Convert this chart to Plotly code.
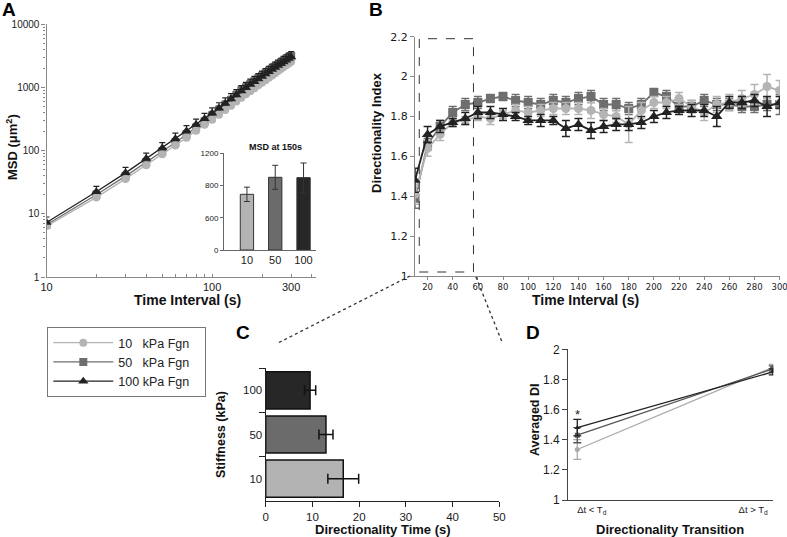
import plotly.graph_objects as go

# ---------------- Data ----------------
series_names = ["10\u00a0\u00a0\u00a0kPa Fgn\u00a0\u00a0\u00a0", "50\u00a0\u00a0\u00a0kPa Fgn\u00a0\u00a0\u00a0",
                "100\u00a0kPa Fgn\u00a0\u00a0\u00a0"]
stiffness_labels = ["10", "50", "100"]

time_interval = [10, 20, 30, 40, 50, 60, 70, 80, 90, 100,
                 110, 120, 130, 140, 150, 160, 170, 180, 190, 200,
                 210, 220, 230, 240, 250, 260, 270, 280, 290, 300]

# Panel A: MSD (um^2)
msd_10 = [6.4, 18.2, 35.7, 59, 87.5, 121, 160, 207, 256, 308,
          370, 438, 515, 600, 690, 780, 875, 975, 1080, 1190,
          1305, 1425, 1550, 1680, 1815, 1955, 2100, 2250, 2400, 2560]
msd_50 = [6.7, 20, 39.5, 65, 97, 135, 180, 232, 290, 365,
          445, 535, 635, 760, 895, 1010, 1135, 1260, 1395, 1530,
          1675, 1825, 1980, 2135, 2295, 2460, 2630, 2800, 2980, 3160]
msd_100 = [7.3, 22.3, 44.5, 75, 110, 155, 204, 259, 319, 391,
           470, 560, 655, 760, 880, 990, 1110, 1230, 1360, 1490,
           1630, 1770, 1920, 2070, 2220, 2380, 2540, 2700, 2870, 3040]
msd_err_pct = [10, 15, 22]          # upper error bar, % of value

# Panel A inset: MSD at 150 s
inset_ticks = [0, 400, 800, 1200]
inset_ticktext = ["0", "600", "800", "1200"]
msd150 = [691, 902, 898]
msd150_err = [89, 149, 182]

# Panel B: Directionality index
di_10 = [1.41, 1.64, 1.71, 1.77, 1.78, 1.80, 1.79, 1.81, 1.83, 1.82,
         1.83, 1.84, 1.84, 1.84, 1.83, 1.81, 1.80, 1.76, 1.83, 1.87,
         1.87, 1.89, 1.85, 1.82, 1.86, 1.87, 1.89, 1.91, 1.95, 1.93]
di_10_err = [0.05, 0.04, 0.03, 0.02, 0.02, 0.02, 0.03, 0.02, 0.03, 0.03,
             0.03, 0.03, 0.03, 0.03, 0.04, 0.03, 0.03, 0.09, 0.04, 0.03,
             0.03, 0.03, 0.03, 0.04, 0.04, 0.04, 0.04, 0.05, 0.06, 0.05]
di_50 = [1.39, 1.66, 1.75, 1.82, 1.86, 1.87, 1.89, 1.90, 1.88, 1.87,
         1.86, 1.88, 1.87, 1.89, 1.90, 1.86, 1.86, 1.84, 1.86, 1.92,
         1.90, 1.85, 1.85, 1.88, 1.86, 1.86, 1.85, 1.85, 1.86, 1.86]
di_50_err = [0.05, 0.03, 0.03, 0.03, 0.03, 0.03, 0.02, 0.02, 0.03, 0.03,
             0.03, 0.03, 0.03, 0.03, 0.03, 0.03, 0.03, 0.03, 0.03, 0.02,
             0.03, 0.03, 0.03, 0.03, 0.03, 0.03, 0.03, 0.03, 0.03, 0.05]
di_100 = [1.48, 1.71, 1.75, 1.77, 1.79, 1.82, 1.82, 1.81, 1.80, 1.78,
          1.78, 1.78, 1.74, 1.76, 1.73, 1.75, 1.76, 1.76, 1.77, 1.80,
          1.82, 1.83, 1.83, 1.83, 1.80, 1.87, 1.87, 1.88, 1.85, 1.87]
di_100_err = [0.06, 0.04, 0.03, 0.02, 0.03, 0.03, 0.03, 0.03, 0.02, 0.02,
              0.03, 0.02, 0.04, 0.03, 0.04, 0.03, 0.03, 0.03, 0.03, 0.03,
              0.03, 0.02, 0.03, 0.03, 0.05, 0.03, 0.03, 0.03, 0.05, 0.03]

# Panel C: Directionality time (s)
dir_time = [16.6, 12.9, 9.5]
dir_time_err = [3.3, 1.5, 1.2]

# Panel D: averaged DI
transition_labels = ["\u0394t < T<sub>d</sub>", "\u0394t > T<sub>d</sub>"]
transition_x = [0, 1]
avg_di_10 = [1.335, 1.88]
avg_di_10_err = [0.065, 0.02]
avg_di_50 = [1.43, 1.87]
avg_di_50_err = [0.05, 0.02]
avg_di_100 = [1.48, 1.85]
avg_di_100_err = [0.055, 0.02]

# ---------------- Styling ----------------
W, H = 787, 537
ARIAL = "Liberation Sans, Arial, sans-serif"
VERD = "DejaVu Sans, Verdana, sans-serif"
TXT = "#1a1a1a"
col_line = ["#b4b4b4", "#6e6e6e", "#222222"]
col_bar = ["#b3b3b3", "#6b6b6b", "#272727"]
col_d = ["#aaaaaa", "#555555", "#222222"]
symbols = ["circle", "square", "triangle-up"]
msizes = [8, 8, 9]


def fx(px):
    return px / W


def fy(py):
    return 1 - py / H


fig = go.Figure()

msd_all = [msd_10, msd_50, msd_100]
di_all = [di_10, di_50, di_100]
di_err_all = [di_10_err, di_50_err, di_100_err]
order = [1, 0, 2]   # drawing order: square, circle, triangle on top

# Panel A main
for i in order:
    fig.add_trace(go.Scatter(
        x=time_interval, y=msd_all[i], mode="lines+markers",
        name=series_names[i], legendrank=i + 1,
        line=dict(color=col_line[i], width=1.3),
        marker=dict(symbol=symbols[i], size=msizes[i], color=col_line[i]),
        error_y=dict(type="percent", value=msd_err_pct[i], valueminus=0,
                     symmetric=False, color=col_line[i], thickness=1.2, width=3),
        xaxis="x", yaxis="y", showlegend=True))

# Panel A inset
fig.add_trace(go.Bar(
    x=stiffness_labels, y=msd150, width=0.47,
    marker=dict(color=col_bar, line=dict(color="#333333", width=1)),
    error_y=dict(type="data", array=msd150_err, color="#333333", thickness=1, width=3),
    xaxis="x2", yaxis="y2", showlegend=False))

# Panel B
for i in order:
    fig.add_trace(go.Scatter(
        x=time_interval, y=di_all[i], mode="lines+markers",
        line=dict(color=col_line[i], width=1.8),
        marker=dict(symbol=symbols[i], size=msizes[i] + 1, color=col_line[i]),
        error_y=dict(type="data", array=di_err_all[i], color=col_line[i], thickness=1.5, width=4),
        xaxis="x3", yaxis="y3", showlegend=False))

# Panel C
fig.add_trace(go.Bar(
    y=stiffness_labels, x=dir_time, orientation="h", width=0.84,
    marker=dict(color=col_bar, line=dict(color="#111111", width=1.5)),
    error_x=dict(type="data", array=dir_time_err, color="#111111", thickness=1.5, width=5),
    xaxis="x4", yaxis="y4", showlegend=False))

# Panel D
d_all = [avg_di_10, avg_di_50, avg_di_100]
d_err = [avg_di_10_err, avg_di_50_err, avg_di_100_err]
for i in [0, 1, 2]:
    fig.add_trace(go.Scatter(
        x=transition_x, y=d_all[i], mode="lines+markers",
        line=dict(color=col_d[i], width=1.3),
        marker=dict(symbol=symbols[i], size=5, color=col_d[i]),
        error_y=dict(type="data", array=d_err[i], color=col_d[i], thickness=1.3, width=4),
        xaxis="x5", yaxis="y5", showlegend=False))

axis_common = dict(showgrid=False, zeroline=False, showline=True, mirror=False, automargin=False)


def tf(size, fam=ARIAL):
    return dict(size=size, family=fam, color=TXT)


fig.update_layout(
    template="none",
    width=W, height=H, margin=dict(l=0, r=0, t=0, b=0, pad=0, autoexpand=False),
    paper_bgcolor="white", plot_bgcolor="rgba(0,0,0,0)",
    font=dict(family=ARIAL, color=TXT),
    # A main
    xaxis=dict(**axis_common, type="log", range=[1, 2.627], domain=[fx(46.5), fx(316)],
               anchor="y", tickvals=[10, 100, 300], ticktext=["10", "100", "300"],
               ticks="inside", ticklen=3, tickcolor="#888888", linecolor="#888888", linewidth=1.2,
               tickfont=tf(11),
               minor=dict(ticks="inside", ticklen=3, tickcolor="#888888", dtick="D1", showgrid=False)),
    yaxis=dict(**axis_common, type="log", range=[0, 4], domain=[fy(277), fy(24.3)],
               anchor="x", tickvals=[1, 10, 100, 1000, 10000],
               ticktext=["1", "10", "100", "1000", "10000"],
               ticks="outside", ticklen=4, tickcolor="#888888", linecolor="#888888", linewidth=1.2,
               tickfont=tf(10),
               minor=dict(ticks="outside", ticklen=2, tickcolor="#888888", dtick="D1", showgrid=False)),
    # A inset
    xaxis2=dict(**axis_common, type="category", range=[-0.81, 2.44], domain=[fx(224), fx(316)],
                anchor="y2", ticks="", linecolor="#666666", linewidth=1,
                tickfont=tf(11)),
    yaxis2=dict(**axis_common, range=[0, 1200], domain=[fy(250), fy(153.3)], anchor="x2",
                tickvals=inset_ticks, ticktext=inset_ticktext, ticks="outside", ticklen=3,
                tickcolor="#666666", linecolor="#666666", linewidth=1,
                tickfont=tf(8)),
    # B
    xaxis3=dict(**axis_common, range=[10, 300.3], domain=[fx(415), fx(780)], anchor="y3",
                tickvals=list(range(20, 301, 20)), ticks="outside", ticklen=3,
                tickcolor="#888888", linecolor="#888888", linewidth=1.3,
                ticklabeloverflow="allow",
                tickfont=tf(8.5, VERD)),
    yaxis3=dict(**axis_common, range=[1, 2.2], domain=[fy(276), fy(36.7)], anchor="x3",
                tickvals=[1, 1.2, 1.4, 1.6, 1.8, 2, 2.2], ticks="outside", ticklen=4,
                tickcolor="#888888", linecolor="#888888", linewidth=1.3,
                tickfont=tf(11, VERD)),
    # C
    xaxis4=dict(**axis_common, range=[0, 50], domain=[fx(265.7), fx(499.3)], anchor="y4",
                dtick=10, ticks="outside", ticklen=5, tickcolor="#222222", linecolor="#222222",
                linewidth=1.3, tickfont=tf(11.5)),
    yaxis4=dict(**axis_common, type="category", range=[-0.5, 2.5], domain=[fy(500.7), fy(368.3)],
                anchor="x4", categoryorder="array", categoryarray=stiffness_labels,
                ticks="outside", tickson="boundaries", ticklen=6, tickcolor="#222222",
                linecolor="#222222", linewidth=1.3, tickfont=tf(11.5)),
    # D
    xaxis5=dict(**axis_common, range=[-0.046, 1.003], domain=[fx(568.3), fx(773.3)], anchor="y5",
                tickvals=[0.074, 0.9], ticktext=transition_labels, ticks="",
                linecolor="#444444", linewidth=1.3, tickfont=tf(9.5)),
    yaxis5=dict(**axis_common, range=[1, 2], domain=[fy(500), fy(349.3)], anchor="x5",
                tickvals=[1, 1.2, 1.4, 1.6, 1.8, 2], ticks="outside", ticklen=5,
                tickcolor="#444444", linecolor="#444444", linewidth=1.3,
                tickfont=tf(12)),
    legend=dict(x=fx(47.3), y=fy(327), xanchor="left", yanchor="top",
                bordercolor="#777777", borderwidth=1, bgcolor="white",
                font=dict(size=12.5, family=ARIAL, color="#222222"),
                itemwidth=60, tracegroupgap=0, traceorder="normal"),
)

# Annotations: panel letters and axis titles
ann = []


def letter(t, x, y):
    ann.append(dict(text=t, x=fx(x), y=fy(y), xref="paper", yref="paper", showarrow=False,
                    font=dict(size=19, family=ARIAL, color="#000"), xanchor="center", yanchor="middle"))


def title(t, x, y, angle=0, size=13.5):
    ann.append(dict(text="<b>" + t + "</b>", x=fx(x), y=fy(y), xref="paper", yref="paper",
                    showarrow=False, textangle=angle,
                    font=dict(size=size, family=ARIAL, color="#111"),
                    xanchor="center", yanchor="middle"))


letter("<b>A</b>", 9, 10)
letter("<b>B</b>", 376, 10)
letter("<b>C</b>", 243, 332)
letter("<b>D</b>", 533, 332)

title("MSD (\u03bcm<sup>2</sup>)", 12, 147, -90, 13)
title("Time Interval (s)", 187, 300, 0, 14)
title("MSD at 150s", 275, 147, 0, 9)
title("Directionality Index", 376, 133, -90, 13)
title("Time Interval (s)", 585, 300, 0, 14)
title("Stiffness (kPa)", 221, 435, -90, 12.5)
title("Directionality Time (s)", 383, 529, 0, 13)
title("Averaged DI", 535, 420, -90, 12.5)
title("Directionality Transition", 670, 529, 0, 13)

ann.append(dict(text="*", x=26.3, y="50", xref="x4", yref="y4", showarrow=False,
                font=dict(size=13, family=ARIAL, color="#222")))
ann.append(dict(text="*", x=0, y=1.565, xref="x5", yref="y5", showarrow=False,
                font=dict(size=13, family=ARIAL, color="#222")))
fig.update_layout(annotations=ann)

# Shapes: dashed zoom box, connectors, significance bracket
shapes = [
    dict(type="rect", xref="x3", yref="y3", x0=13.4, x1=56.5, y0=1.02, y1=2.19,
         line=dict(color="#333333", width=1, dash="dash")),
    dict(type="line", xref="paper", yref="paper", x0=fx(410), y0=fy(276), x1=fx(278), y1=fy(343),
         line=dict(color="#333333", width=1.3, dash="dot")),
    dict(type="line", xref="paper", yref="paper", x0=fx(476), y0=fy(277), x1=fx(502), y1=fy(342),
         line=dict(color="#333333", width=1.3, dash="dot")),
    dict(type="line", xref="x4", yref="y4", x0=22.7, x1=24.1, y0="100", y1="100",
         line=dict(color="#333333", width=1.2)),
    dict(type="line", xref="x4", yref="y4", x0=24.1, x1=24.1, y0="10", y1="100",
         line=dict(color="#333333", width=1.2)),
    dict(type="line", xref="x4", yref="y4", x0=22.7, x1=24.1, y0="10", y1="10",
         line=dict(color="#333333", width=1.2)),
]
fig.update_layout(shapes=shapes)

fig.write_html("out.html", config={"displayModeBar": False},
               post_script="document.body.style.margin='0';document.body.style.overflow='hidden';")
